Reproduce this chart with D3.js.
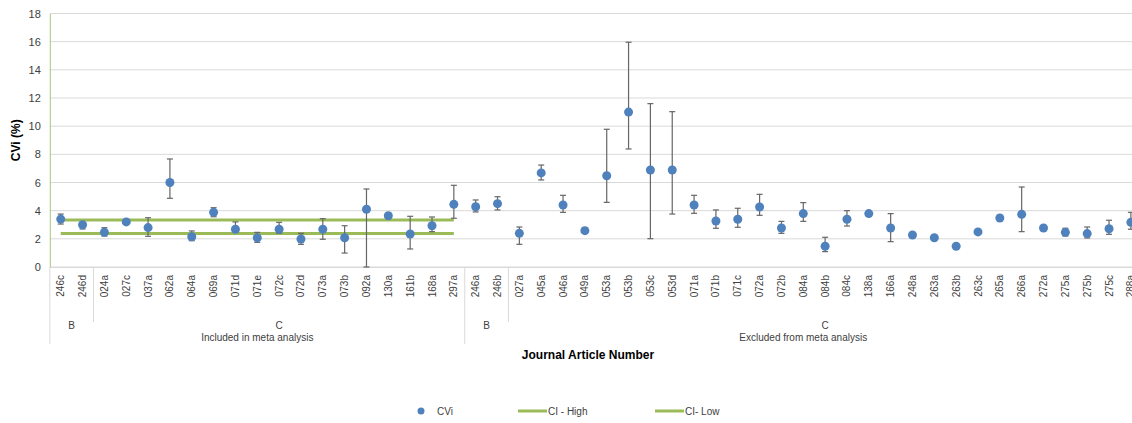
<!DOCTYPE html>
<html>
<head>
<meta charset="utf-8">
<script src="https://cdn.jsdelivr.net/npm/d3@7"></script>
<style>
body { margin: 0; background: #fff; }
svg { display: block; font-family: "Liberation Sans", Arial, sans-serif; }
</style>
</head>
<body>
<script>
var w = 1132;
var h = 423;

// journal article numbers, in chart order
var articles = ["246c", "246d", "024a", "027c", "037a", "062a", "064a", "069a", "071d", "071e",
    "072c", "072d", "073a", "073b", "092a", "130a", "161b", "168a", "297a",
    "246a", "246b", "027a", "045a", "046a", "049a", "053a", "053b", "053c", "053d", "071a",
    "071b", "071c", "072a", "072b", "084a", "084b", "084c", "138a", "166a", "248a",
    "263a", "263b", "263c", "265a", "266a", "272a", "275a", "275b", "275c", "288a"];
var classes = ["B", "B", "C", "C", "C", "C", "C", "C", "C", "C", "C", "C", "C", "C", "C", "C", "C", "C", "C",
    "B", "B", "C", "C", "C", "C", "C", "C", "C", "C", "C", "C", "C", "C", "C", "C", "C", "C", "C", "C", "C",
    "C", "C", "C", "C", "C", "C", "C", "C", "C", "C"];
var metaGroups = ["Included in meta analysis", "Excluded from meta analysis"];
var metaCounts = [19, 31];

var cvi = [3.4, 3.0, 2.46, 3.2, 2.8, 6.0, 2.15, 3.88, 2.68, 2.08,
    2.68, 1.99, 2.68, 2.08, 4.1, 3.64, 2.34, 2.93, 4.45,
    4.28, 4.5, 2.39, 6.68, 4.4, 2.58, 6.48, 11.0, 6.89, 6.89, 4.4,
    3.27, 3.39, 4.26, 2.77, 3.79, 1.47, 3.39, 3.79, 2.77, 2.27,
    2.08, 1.47, 2.49, 3.48, 3.74, 2.77, 2.46, 2.37, 2.72, 3.17];
var errHigh = [3.76, 3.15, 2.79, null, 3.5, 7.67, 2.56, 4.21, 3.2, 2.46,
    3.17, 2.39, 3.43, 2.93, 5.54, 3.8, 3.6, 3.55, 5.8,
    4.76, 4.99, 2.84, 7.24, 5.09, 2.8, 9.78, 15.96, 11.6, 11.03, 5.09,
    4.05, 4.17, 5.16, 3.24, 4.57, 2.11, 4.0, null, 3.79, null,
    null, null, null, null, 5.68, null, 2.75, 2.84, 3.32, 3.88];
var errLow = [3.05, 2.7, 2.2, null, 2.18, 4.88, 1.87, 3.57, 2.5, 1.75,
    2.4, 1.61, 1.97, 0.99, 0, 3.5, 1.28, 2.51, 3.46,
    3.91, 4.05, 1.61, 6.18, 3.88, 2.4, 4.59, 8.38, 2.01, 3.76, 3.81,
    2.75, 2.82, 3.67, 2.39, 3.24, 1.09, 2.91, null, 1.8, null,
    null, null, null, null, 2.51, null, 2.2, 2.06, 2.32, 2.68];
var ciHigh = 3.33;
var ciLow = 2.37;
var yTicks = [0, 2, 4, 6, 8, 10, 12, 14, 16, 18];

var dataset = articles.map((a, i) => ({
    article: a, cls: classes[i], cvi: cvi[i], hi: errHigh[i], lo: errLow[i]
}));

var plotLeft = 49.8, plotTop = 13.5, plotBottom = 267;
var xScale = d3.scaleBand().domain(articles).range([plotLeft, plotLeft + articles.length * 21.84]);
var yScale = d3.scaleLinear().domain([0, 18]).range([plotBottom, plotTop]);

var svg = d3.select("body").append("svg").attr("width", w).attr("height", h);

// gridlines
svg.selectAll("line.grid").data(yTicks).enter().append("line")
    .attr("x1", plotLeft).attr("x2", w)
    .attr("y1", d => yScale(d)).attr("y2", d => yScale(d))
    .attr("stroke", "#d9d9d9").attr("stroke-width", 1);

// y axis
var yAxis = d3.axisLeft(yScale).tickValues(yTicks).tickSize(0).tickPadding(9);
var gy = svg.append("g").attr("transform", `translate(${plotLeft},0)`).call(yAxis);
gy.select(".domain").attr("stroke", "#a9c97a");
gy.selectAll("text").attr("font-size", 11).attr("fill", "#404040");

svg.append("text")
    .attr("transform", `translate(20,${(plotTop + plotBottom) / 2}) rotate(-90)`)
    .attr("text-anchor", "middle").attr("font-weight", "bold").attr("font-size", 12)
    .text("CVi (%)");

// x axis labels
var gx = svg.append("g").attr("transform", `translate(0,${plotBottom})`)
    .call(d3.axisBottom(xScale).tickSize(0).tickPadding(0));
gx.select(".domain").attr("stroke", "#d9d9d9");
gx.selectAll("text")
    .attr("font-size", 10).attr("fill", "#404040")
    .attr("text-anchor", "end").attr("dy", "0.35em")
    .attr("transform", "translate(0,8) rotate(-90)");

// category separators
svg.append("line").attr("x1", plotLeft).attr("x2", plotLeft).attr("y1", plotBottom).attr("y2", 344)
    .attr("stroke", "#d9d9d9");
var start = 0;
var classSpans = [];
metaCounts.forEach((n, g) => {
    var sub = dataset.slice(start, start + n);
    var runs = d3.groups(sub, d => d.cls);
    var s = start;
    runs.forEach(r => {
        classSpans.push({ label: r[0], from: s, to: s + r[1].length });
        s += r[1].length;
    });
    var xEnd = xScale(articles[start + n - 1]) + xScale.step();
    svg.append("line").attr("x1", xEnd).attr("x2", xEnd).attr("y1", plotBottom).attr("y2", 344)
        .attr("stroke", "#d9d9d9");
    svg.append("text")
        .attr("x", (xScale(articles[start]) + xEnd) / 2).attr("y", 341)
        .attr("text-anchor", "middle").attr("font-size", 10).attr("fill", "#404040")
        .text(metaGroups[g]);
    start += n;
});
classSpans.forEach(c => {
    var x0 = xScale(articles[c.from]);
    var x1 = xScale(articles[c.to - 1]) + xScale.step();
    if (c.label === "B") {
        svg.append("line").attr("x1", x1).attr("x2", x1).attr("y1", plotBottom).attr("y2", 322)
            .attr("stroke", "#d9d9d9");
    }
    svg.append("text").attr("x", (x0 + x1) / 2).attr("y", 329)
        .attr("text-anchor", "middle").attr("font-size", 10).attr("fill", "#404040")
        .text(c.label);
});

svg.append("text").attr("x", 588).attr("y", 359)
    .attr("text-anchor", "middle").attr("font-weight", "bold").attr("font-size", 12)
    .text("Journal Article Number");

// CI lines over included articles
var incl = articles.slice(0, metaCounts[0]);
var cx = d => xScale(d) + xScale.bandwidth() / 2;
[ciHigh, ciLow].forEach(v => {
    svg.append("line")
        .attr("x1", cx(incl[0])).attr("x2", cx(incl[incl.length - 1]))
        .attr("y1", yScale(v)).attr("y2", yScale(v))
        .attr("stroke", "#9bbb59").attr("stroke-width", 3);
});

// error bars
var eb = dataset.filter(d => d.hi !== null);
var bars = svg.selectAll("g.err").data(eb).enter().append("g")
    .attr("stroke", "#666").attr("stroke-width", 1.2);
bars.append("line")
    .attr("x1", d => cx(d.article)).attr("x2", d => cx(d.article))
    .attr("y1", d => yScale(d.hi)).attr("y2", d => yScale(d.lo));
bars.append("line")
    .attr("x1", d => cx(d.article) - 3).attr("x2", d => cx(d.article) + 3)
    .attr("y1", d => yScale(d.hi)).attr("y2", d => yScale(d.hi));
bars.append("line")
    .attr("x1", d => cx(d.article) - 3).attr("x2", d => cx(d.article) + 3)
    .attr("y1", d => yScale(d.lo)).attr("y2", d => yScale(d.lo));

// points
svg.selectAll("circle.pt").data(dataset).enter().append("circle")
    .attr("cx", d => cx(d.article))
    .attr("cy", d => yScale(d.cvi))
    .attr("r", 4.5)
    .attr("fill", "#4f81bd");

// legend
var lg = svg.append("g").attr("font-size", 10).attr("fill", "#404040");
lg.append("circle").attr("cx", 421).attr("cy", 411).attr("r", 3.5).attr("fill", "#4f81bd");
lg.append("text").attr("x", 437).attr("y", 414.5).text("CVi");
lg.append("line").attr("x1", 518).attr("x2", 547).attr("y1", 411).attr("y2", 411)
    .attr("stroke", "#9bbb59").attr("stroke-width", 3);
lg.append("text").attr("x", 548).attr("y", 414.5).text("CI - High");
lg.append("line").attr("x1", 655).attr("x2", 684).attr("y1", 411).attr("y2", 411)
    .attr("stroke", "#9bbb59").attr("stroke-width", 3);
lg.append("text").attr("x", 685).attr("y", 414.5).text("CI- Low");
</script>
</body>
</html>
